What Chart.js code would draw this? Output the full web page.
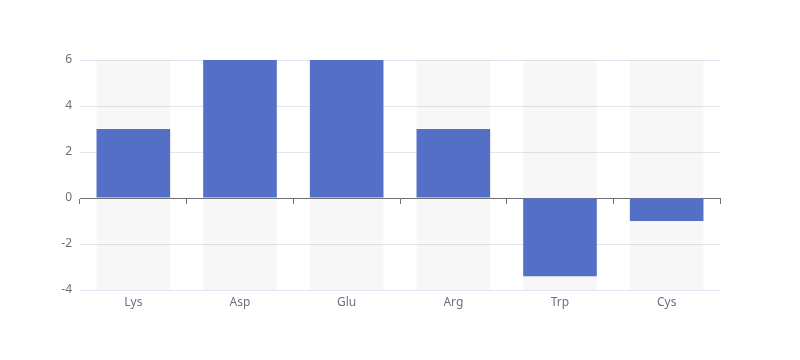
<!DOCTYPE html>
<html>
<head>
<meta charset="utf-8">
<script src="https://cdn.jsdelivr.net/npm/chart.js@4/dist/chart.umd.min.js"></script>
<style>
  html, body { margin: 0; padding: 0; background: #fff; }
  #wrap { width: 800px; height: 360px; }
</style>
</head>
<body>
<div id="wrap"><canvas id="c" width="800" height="360"></canvas></div>
<script>
const categories = ['Lys', 'Asp', 'Glu', 'Arg', 'Trp', 'Cys'];
const values = [3, 6, 6, 3, -3.4, -1];
const yMin = -4;
const yMax = 6;
const yStep = 2;
const backgroundRange = categories.map(() => [yMin, yMax]);

const FONT = { family: "'Noto Sans', 'DejaVu Sans', sans-serif", size: 12 };

new Chart(document.getElementById('c'), {
  type: 'bar',
  data: {
    labels: categories,
    datasets: [
      {
        data: values,
        backgroundColor: '#5470C6',
        borderWidth: 0,
        categoryPercentage: 1,
        barPercentage: 0.69,
        grouped: false,
        order: 1,
        xAxisID: 'x',
        yAxisID: 'y'
      },
      {
        data: backgroundRange,
        backgroundColor: 'rgba(180,180,180,0.1)',
        borderWidth: 0,
        categoryPercentage: 1,
        barPercentage: 0.69,
        grouped: false,
        order: 2,
        xAxisID: 'x',
        yAxisID: 'y'
      }
    ]
  },
  options: {
    responsive: false,
    animation: false,
    layout: { padding: { top: 60, right: 80, left: 0, bottom: 0 } },
    plugins: { legend: { display: false }, tooltip: { enabled: false } },
    scales: {
      x: {
        position: 'bottom',
        grid: { display: false, drawTicks: false },
        border: { display: false },
        ticks: { color: '#6E7079', font: FONT, padding: 5 },
        afterFit(scale) { scale.height = 70; }
      },
      x2: {
        type: 'category',
        position: { y: 0 },
        grid: { display: true, drawOnChartArea: false, drawTicks: true, tickLength: 5, offset: true, color: '#6E7079' },
        border: { display: true, color: '#6E7079', width: 1 },
        ticks: { display: false }
      },
      y: {
        min: yMin,
        max: yMax,
        grid: { color: '#E0E6F1', drawTicks: false },
        border: { display: false },
        ticks: { stepSize: yStep, color: '#6E7079', font: FONT, padding: 8 },
        afterFit(scale) { scale.width = 80; }
      }
    }
  }
});
</script>
</body>
</html>
